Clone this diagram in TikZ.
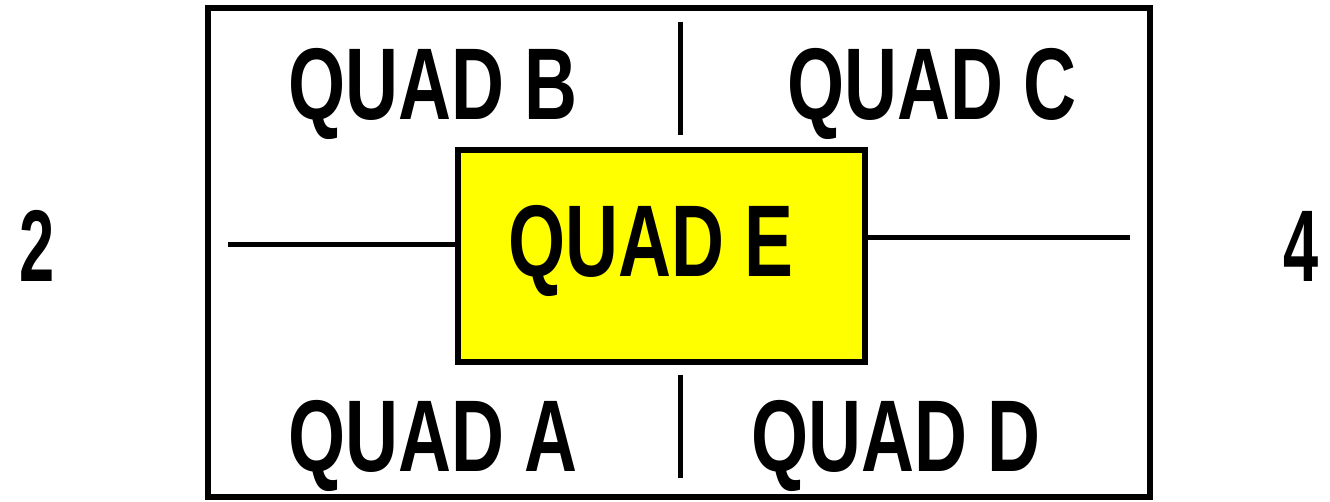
\documentclass[tikz,border=0pt]{standalone}
\usepackage{fontspec}
\setmainfont{Liberation Sans}
\definecolor{quadyellow}{RGB}{255,255,0}
\begin{document}
\begin{tikzpicture}[x=0.02cm,y=-0.02cm,
  frame/.style={draw=black,line width=6*0.02cm},
  rule/.style={draw=black,line width=5*0.02cm},
  lbl/.style={inner sep=0pt,font=\bfseries\fontsize{58}{60}\selectfont}]
\useasboundingbox (0,0) rectangle (1330,502);
\node[frame,minimum width=942*0.02cm,minimum height=489*0.02cm,inner sep=0pt] (outer) at (679,252.5) {};
\node[frame,fill=quadyellow,minimum width=407*0.02cm,minimum height=212*0.02cm,inner sep=0pt] (e) at (661.5,256) {};
\coordinate (t1) at (680,22); \coordinate (t2) at (680,135);
\coordinate (b1) at (680,375); \coordinate (b2) at (680,478);
\coordinate (l1) at (228,245); \coordinate (r1) at (1130,238);
\draw[rule] (t1) -- (t2);
\draw[rule] (b1) -- (b2);
\draw[rule] (l1) -- (l1 -| e.west);
\draw[rule] (e.east |- r1) -- (r1);
\node[lbl] (qb) at (433,94) {\scalebox{0.72}[1]{QUAD B}};
\node[lbl] (qc) at (932,94) {\scalebox{0.72}[1]{QUAD C}};
\node[lbl] (qe) at (651,251) {\scalebox{0.72}[1]{QUAD E}};
\node[lbl] (qa) at (433,446) {\scalebox{0.72}[1]{QUAD A}};
\node[lbl] (qd) at (896,446) {\scalebox{0.72}[1]{QUAD D}};
\node[lbl] (n2) at (37,246) {\scalebox{0.62}[1]{2}};
\node[lbl] (n4) at (1301,246) {\scalebox{0.62}[1]{4}};
\end{tikzpicture}
\end{document}
